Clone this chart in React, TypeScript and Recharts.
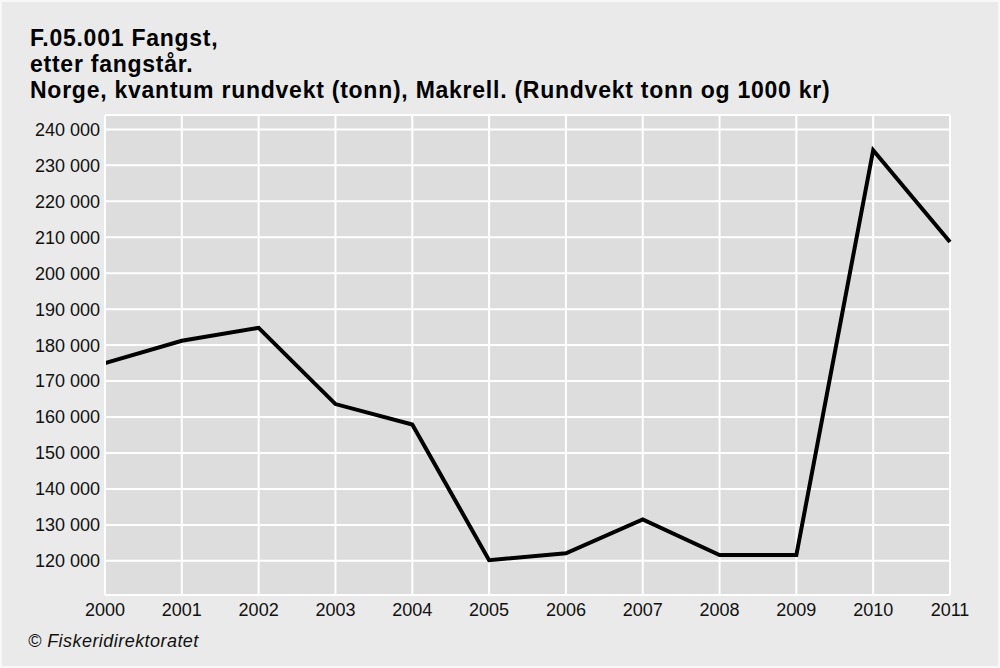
import React from "react";
import { LineChart, Line, XAxis, YAxis, CartesianGrid, ReferenceLine } from "recharts";

const years = ["2000", "2001", "2002", "2003", "2004", "2005", "2006", "2007", "2008", "2009", "2010", "2011"];
const tonnes = [175000, 181200, 184800, 163600, 157900, 120200, 122100, 131500, 121600, 121600, 234200, 208700];
const yTicks = [120000, 130000, 140000, 150000, 160000, 170000, 180000, 190000, 200000, 210000, 220000, 230000, 240000];
const titleLines = [
  "F.05.001 Fangst,",
  "etter fangstår.",
  "Norge, kvantum rundvekt (tonn), Makrell. (Rundvekt tonn og 1000 kr)",
];
const footer = "© Fiskeridirektoratet";

const data = years.map((y, i) => ({ year: y, value: tonnes[i] }));
const fmt = (v: number) => String(v).replace(/\B(?=(\d{3})+(?!\d))/g, " ");
const FONT = "'Liberation Sans', Arial, sans-serif";

export default function App() {
  return (
    <div
      style={{
        position: "fixed",
        left: 0,
        top: 0,
        width: 1000,
        height: 668,
        background: "#eaeaea",
        boxSizing: "border-box",
        border: "2px solid #f8f8f8",
        fontFamily: FONT,
      }}
    >
      <div style={{ position: "absolute", left: -2, top: -2 }}>
        <LineChart width={1000} height={668} data={data} margin={{ top: 115, right: 50, bottom: 0, left: 0 }}>
          <CartesianGrid fill="#dddddd" stroke="#ffffff" strokeWidth={2} />
          <XAxis
            dataKey="year"
            height={73}
            tickLine={false}
            tickSize={0}
            tickMargin={8}
            axisLine={{ stroke: "#ffffff", strokeWidth: 2 }}
            tick={{ fill: "#111", fontSize: 18, fontFamily: FONT }}
            interval={0}
          />
          <YAxis
            width={105}
            domain={[110500, 244000]}
            ticks={yTicks}
            tickFormatter={fmt}
            tickLine={false}
            tickSize={0}
            tickMargin={5}
            axisLine={{ stroke: "#ffffff", strokeWidth: 2 }}
            tick={{ fill: "#111", fontSize: 18, fontFamily: FONT }}
            allowDataOverflow
          />
          <ReferenceLine y={244000} stroke="#ffffff" strokeWidth={2} />
          <Line
            type="linear"
            dataKey="value"
            stroke="#000000"
            strokeWidth={4}
            dot={false}
            isAnimationActive={false}
          />
        </LineChart>
      </div>
      <svg
        width={1000}
        height={668}
        style={{ position: "absolute", left: -2, top: -2, pointerEvents: "none" }}
      >
        {titleLines.map((t, i) => (
          <text
            key={i}
            x={30}
            y={46 + i * 26}
            fontSize={23}
            fontWeight="bold"
            fill="#000"
            letterSpacing={0.75}
            fontFamily={FONT}
          >
            {t}
          </text>
        ))}
        <text x={28} y={647} fontSize={18} fontStyle="italic" fill="#111" letterSpacing={0.45} fontFamily={FONT}>
          {footer}
        </text>
      </svg>
    </div>
  );
}
